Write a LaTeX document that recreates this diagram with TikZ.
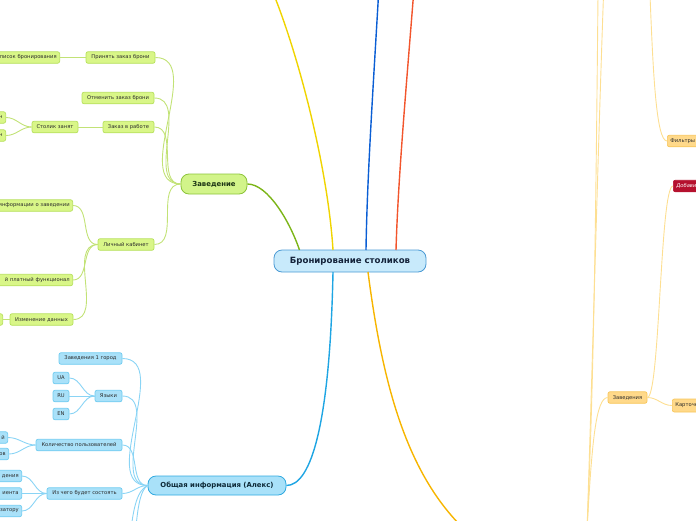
\documentclass[tikz,border=0pt]{standalone}
\usepackage{fontspec}
\setmainfont{DejaVu Sans}
\definecolor{txt}{HTML}{2B2B2B}
\definecolor{ctxt}{HTML}{14233A}
\definecolor{gtxt}{HTML}{1C3514}
\definecolor{btxt}{HTML}{0E2A38}
\definecolor{gfill}{HTML}{D9F688}
\definecolor{gbd}{HTML}{B6E05C}
\definecolor{gline}{HTML}{C2E276}
\definecolor{gmfill}{HTML}{D2F48A}
\definecolor{gmbd}{HTML}{8CC43A}
\definecolor{gmain}{HTML}{7CB518}
\definecolor{bfill}{HTML}{A9E1F9}
\definecolor{bbd}{HTML}{6FCBF0}
\definecolor{bline}{HTML}{8AD4F5}
\definecolor{bmbd}{HTML}{2FA9E0}
\definecolor{bmain}{HTML}{1EA5E3}
\definecolor{cfill}{HTML}{C8EAFB}
\definecolor{cbd}{HTML}{4A9AD4}
\definecolor{ofill}{HTML}{FFD98A}
\definecolor{obd}{HTML}{F7C65A}
\definecolor{oline}{HTML}{FDDF92}
\definecolor{omain}{HTML}{F7B500}
\definecolor{rfill}{HTML}{B5112E}
\definecolor{ymain}{HTML}{F0D400}
\definecolor{dbmain}{HTML}{0A5ED4}
\definecolor{rmain}{HTML}{F2552C}
\begin{document}
\begin{tikzpicture}[x=1pt,y=-1pt,
  sm/.style={rounded corners=2pt, line width=0.7pt, inner sep=0pt, minimum height=11.5pt, font=\fontsize{5.2}{6}\selectfont, text=txt},
  gsm/.style={sm, draw=gbd, fill=gfill},
  bsm/.style={sm, draw=bbd, fill=bfill},
  osm/.style={sm, draw=obd, fill=ofill},
  rsm/.style={sm, draw=rfill, fill=rfill, text=white, font=\fontsize{5.2}{6}\selectfont\itshape},
  cutl/.style={text width=#1, align=right, anchor=east, inner xsep=3pt},
  cutr/.style={text width=#1, align=left, anchor=west, inner xsep=3pt},
  gl/.style={draw=gline, line width=0.9pt},
  bl/.style={draw=bline, line width=0.9pt},
  ol/.style={draw=oline, line width=0.9pt},
  mainline/.style={line width=1.4pt},
]
\useasboundingbox (0,0) rectangle (696,520);
\clip (0,0) rectangle (696,520);

% ---------- central ----------
\node[draw=cbd, fill=cfill, line width=0.8pt, rounded corners=8pt, minimum width=152pt, minimum height=22pt, inner sep=0pt,
      font=\fontsize{8.6}{10}\selectfont\bfseries, text=ctxt] (c) at (350,261) {Бронирование столиков};

% ---------- green subtree ----------
\node[draw=gmbd, fill=gmfill, line width=0.8pt, rounded corners=8pt, minimum width=66pt, minimum height=20pt, inner sep=0pt,
      font=\fontsize{6.9}{8}\selectfont\bfseries, text=gtxt] (zav) at (214,184) {Заведение};

\node[gsm, minimum width=69pt] (prin) at (120.5,57.5) {Принять заказ брони};
\node[gsm, cutl=90pt] (spis) at (60,57.5) {Список бронирования};
\node[gsm, minimum width=72pt] (otm) at (118,98) {Отменить заказ брони};
\node[gsm, minimum width=51pt] (zvr) at (128.5,127) {Заказ в работе};
\node[gsm, minimum width=46pt] (stol) at (55,127) {Столик занят};
\node[gsm, cutl=40pt] (cut1) at (6,117.5) {н};
\node[gsm, cutl=40pt] (cut2) at (6,135.5) {н};
\node[gsm, cutl=110pt] (info) at (73,205.5) {информации о заведении};
\node[gsm, minimum width=56pt] (lk) at (126,244.5) {Личный кабинет};
\node[gsm, cutl=110pt] (plat) at (73,280) {й платный функционал};
\node[gsm, minimum width=63pt] (izm) at (41.5,319.5) {Изменение данных};
\node[gsm, cutl=40pt] (cut3) at (3,319.5) {};

\draw[gl] (spis.east) -- (prin.west);
\draw[gl] (stol.east) -- (zvr.west);
\draw[gl] (cut1.east) to[out=0,in=180] (stol.west);
\draw[gl] (cut2.east) to[out=0,in=180] (stol.west);
\draw[gl] (cut3.east) -- (izm.west);
\draw[gl] (info.east) to[out=0,in=180] (lk.west);
\draw[gl] (plat.east) to[out=0,in=180] (lk.west);
\draw[gl] (izm.east) to[out=0,in=180] (lk.west);
\draw[gl] (prin.east) to[out=0,in=180] (zav.west);
\draw[gl] (otm.east) to[out=0,in=180] (zav.west);
\draw[gl] (zvr.east) to[out=0,in=180] (zav.west);
\draw[gl] (lk.east) to[out=0,in=180] (zav.west);

% ---------- blue subtree ----------
\node[draw=bmbd, fill=bfill, line width=0.8pt, rounded corners=8pt, minimum width=138pt, minimum height=19pt, inner sep=0pt,
      font=\fontsize{6.9}{8}\selectfont\bfseries, text=btxt] (obsh) at (217,485.5) {Общая информация (Алекс)};

\node[bsm, minimum width=63pt] (z1) at (90.5,358.5) {Заведения 1 город};
\node[bsm, minimum width=16pt] (ua) at (61,378) {UA};
\node[bsm, minimum width=16pt] (ru) at (61,396) {RU};
\node[bsm, minimum width=16pt] (en) at (61,414) {EN};
\node[bsm, minimum width=27pt] (yaz) at (108.5,396) {Языки};
\node[bsm, cutl=40pt] (cA) at (8,437.5) {й};
\node[bsm, cutl=40pt] (cB) at (9,454) {ов};
\node[bsm, minimum width=86pt] (kol) at (79,445) {Количество пользователей};
\node[bsm, cutl=60pt] (cC) at (22,476) {дения};
\node[bsm, cutl=60pt] (cD) at (22,493.5) {иента};
\node[bsm, cutl=60pt] (cE) at (22,511) {затору};
\node[bsm, minimum width=75pt] (iz) at (84.5,493.5) {Из чего будет состоять};
\coordinate (bdown1) at (135,540);
\coordinate (bdown2) at (130,540);

\draw[bl] (ua.east) to[out=0,in=180] (yaz.west);
\draw[bl] (ru.east) -- (yaz.west);
\draw[bl] (en.east) to[out=0,in=180] (yaz.west);
\draw[bl] (cA.east) to[out=0,in=180] (kol.west);
\draw[bl] (cB.east) to[out=0,in=180] (kol.west);
\draw[bl] (cC.east) to[out=0,in=180] (iz.west);
\draw[bl] (cD.east) -- (iz.west);
\draw[bl] (cE.east) to[out=0,in=180] (iz.west);
\draw[bl] (z1.east) to[out=0,in=180] (obsh.west);
\draw[bl] (yaz.east) to[out=0,in=180] (obsh.west);
\draw[bl] (kol.east) to[out=0,in=180] (obsh.west);
\draw[bl] (iz.east) to[out=0,in=180] (obsh.west);
\draw[bl] (obsh.west) .. controls (140,490) and (137,510) .. (bdown1);
\draw[bl] (obsh.west) .. controls (138,490) and (133,505) .. (bdown2);

% ---------- orange subtree (right) ----------
\node[osm, cutr=60pt] (filt) at (667,141) {Фильтры};
\node[rsm, cutr=60pt] (dob) at (673,186) {Добавить};
\node[osm, minimum width=39pt] (zavs) at (627.5,397.5) {Заведения};
\node[osm, cutr=60pt, minimum height=13pt] (kart) at (672,405.5) {Карточка};
\coordinate (ot1) at (598,-5);
\coordinate (ot2) at (603.5,-5);
\coordinate (ot3) at (650,-5);
\coordinate (ob) at (587,530);

\draw[ol] (ob) .. controls (594,380) and (596,200) .. (ot1);
\draw[ol] (ob) .. controls (592,380) and (598,150) .. (ot2);
\draw[ol] (ob) .. controls (592,440) and (596,398) .. (zavs.west);
\draw[ol] (ot3) .. controls (653,70) and (656,141) .. (filt.west);
\draw[ol] (zavs.east) .. controls (660,397) and (660,186) .. (dob.west);
\draw[ol] (zavs.east) to[out=0,in=180] (kart.west);

% ---------- main branches ----------
\coordinate (ytop) at (274,-5);
\coordinate (btop) at (378.5,-5);
\coordinate (rtop) at (413.5,-5);
\coordinate (obot) at (462,527);

\draw[mainline, draw=gmain] (zav.east) .. controls (268,184) and (290,222) .. (299.5,250);
\draw[mainline, draw=ymain] (ytop) .. controls (300,60) and (328,170) .. (333,250);
\draw[mainline, draw=dbmain] (btop) .. controls (373,90) and (367,180) .. (366,250);
\draw[mainline, draw=rmain] (rtop) .. controls (406,90) and (398,180) .. (396,250);
\draw[mainline, draw=bmain] (333,272) .. controls (330,420) and (312,485.5) .. (obsh.east);
\draw[mainline, draw=omain] (368,272) .. controls (382,380) and (405,470) .. (obot);
\end{tikzpicture}
\end{document}
